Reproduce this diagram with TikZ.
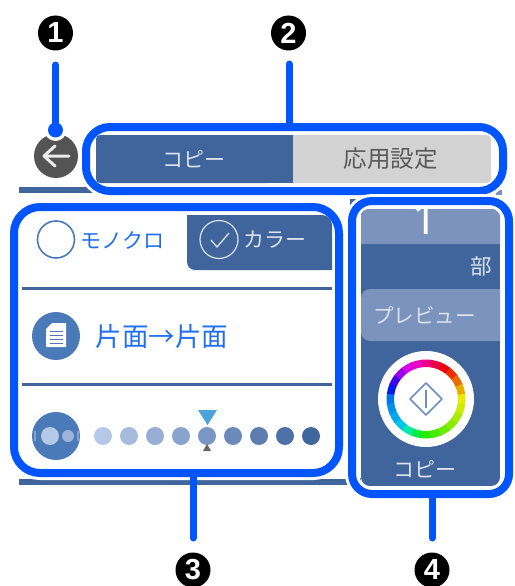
\documentclass[tikz,border=0pt]{standalone}
\usepackage{fontspec}
\setmainfont{Noto Sans CJK JP}
\newfontfamily\badgefont{Liberation Sans}[BoldFont={Liberation Sans Bold}]
\newfontfamily\countfont{Noto Sans}
\usetikzlibrary{calc}
\definecolor{hl}{HTML}{0055FF}
\definecolor{panel}{HTML}{3F659C}
\definecolor{lightp}{HTML}{7B93BD}
\definecolor{tabgray}{HTML}{D3D3D3}
\definecolor{midblue}{HTML}{4A7AB8}
\definecolor{txtblue}{HTML}{1F6FEF}
\definecolor{softw}{HTML}{DCE3EE}
\definecolor{dotA}{HTML}{B5C8E6}
\definecolor{dotB}{HTML}{9DB3D8}
\definecolor{markc}{HTML}{4BA3DA}
\definecolor{diam}{HTML}{6A90C4}
\newcommand{\jp}[1]{\fontsize{#1}{#1}\selectfont}
\tikzset{
  x=1pt,y=-1pt,
  badge/.style={circle,fill=black,text=white,minimum size=35pt,inner sep=0pt,outer sep=0pt,font=\badgefont\bfseries\fontsize{29}{29}\selectfont},
  hlbox/.style={rectangle,draw=hl,line width=8pt,rounded corners=#1,inner sep=0pt,outer sep=0pt,preaction={draw=white,line width=14pt}},
  leader/.style={draw=hl,line width=7pt,line cap=round},
  rulebar/.style={fill=panel},
  label/.style={inner sep=0pt,outer sep=0pt},
}
\begin{document}
\begin{tikzpicture}
\useasboundingbox (0,0) rectangle (514,586);
% background rules of the screen
\fill[rulebar] (19,187) rectangle (100,193);
\fill[rulebar] (19,479) rectangle (345,485);
\fill[rulebar] (350,199) rectangle (365,215);
\fill[rulebar] (345,478) rectangle (361,485);
\fill[lightp] (496,190) rectangle (502,195);
% back button
\node[circle,fill=black!67,minimum size=44pt,inner sep=0pt] (back) at (56,156) {};
\draw[white!92!black,line width=3pt,line cap=round,line join=round] (44,156) -- (69,156) (55,146) -- (44,156) -- (55,166);
% highlight frames
\node[hlbox=24pt,minimum width=417pt,minimum height=64pt] (frameB) at (294.5,159) {};
\node[hlbox=26pt,minimum width=325pt,minimum height=266pt] (frameC) at (176.5,340) {};
\node[hlbox=20pt,minimum width=157pt,minimum height=293pt] (frameD) at (430.5,347.5) {};
% tabs
\fill[tabgray,rounded corners=4pt] (280,135) rectangle (491,183);
\fill[panel,rounded corners=4pt] (96,135) rectangle (270,183);
\fill[panel] (150,135) rectangle (293,183);
\node[label,text=softw,font=\jp{21}] (tabcopy) at (194,159) {コピー};
\node[label,text=black!65,font=\jp{23.5}] (tabadv) at (390.5,159) {応用設定};
% colour selector
\fill[panel] (187,215) -- (187,270) [rounded corners=0pt] -- (332,270) -- (332,225) arc[start angle=0,end angle=-90,radius=10] -- (187,215) -- cycle;
\fill[white] (187,262) rectangle (195,270);
\fill[panel] (195,270) arc[start angle=90,end angle=180,radius=8] -- (195,262) -- cycle;
\node[circle,draw=midblue,line width=1.6pt,minimum size=37pt,inner sep=0pt] (mono) at (56,239.5) {};
\node[label,text=txtblue,font=\jp{21}] (monotxt) at (122,240) {モノクロ};
\node[circle,draw=softw,line width=1.2pt,minimum size=38pt,inner sep=0pt] (color) at (219,239.5) {};
\draw[softw,line width=1.3pt,line join=round] (211,240) -- (217,247) -- (229,233);
\node[label,text=softw,font=\jp{21}] (colortxt) at (275,240) {カラー};
\fill[rulebar] (22,287) rectangle (332,290);
\fill[rulebar] (22,383) rectangle (332,386);
% sides
\node[circle,fill=midblue,minimum size=48pt,inner sep=0pt] (sides) at (56,336) {};
\fill[white] (52,323) -- (66,323) -- (66,347) -- (46,347) -- (46,329) -- cycle;
\foreach \yy in {331,335,339,343}{\draw[midblue,line width=1pt] (50,\yy) -- (63,\yy);}
\node[label,text=txtblue,font=\jp{26.5}] (sidestxt) at (162,336) {片面→片面};
% density
\node[circle,fill=midblue,minimum size=48pt,inner sep=0pt] (dens) at (56,436) {};
\fill[dotA] (50,436) circle (9);
\fill[dotB] (68,436) circle (6);
\fill[dotB!70!midblue] (34,431) rectangle (36,441);
\fill[dotB!70!midblue] (76.5,431) rectangle (78.5,441);
\foreach \xx/\cc in {103/B5C8E6,129/A6BBDD,155/97AFD6,181/88A3CC,207/7A96C2,233/6B8ABA,259/5C7EAF,285/4D72A8,311/3F679E}{
  \definecolor{dotc}{HTML}{\cc}
  \fill[dotc] (\xx,436) circle (9);
}
\fill[markc] (198,410) -- (217,410) -- (207.5,425) -- cycle;
\fill[black!60] (207,444) -- (203,451) -- (211,451) -- cycle;
% right panel
\begin{scope}
\clip[rounded corners=9pt] (361,209) rectangle (500,486);
\fill[panel] (361,209) rectangle (500,486);
\fill[lightp,rounded corners=9pt] (350,200) rectangle (520,244);
\fill[lightp,rounded corners=9pt] (361,289) rectangle (520,341);
\node[label,text=white,font=\countfont\fontsize{44}{44}\selectfont] (count) at (425,219) {1};
\end{scope}
\node[label,text=softw,font=\jp{21.5}] (unit) at (481,266) {部};
\node[label,text=softw,font=\jp{20.5}] (preview) at (424.5,315) {プレビュー};
\node[circle,fill=white,minimum size=96pt,inner sep=0pt] (start) at (426,399) {};
\begin{scope}[shift={(426,399)}]
\foreach \t/\h in {0/325,15/341,30/357,45/12,60/28,75/44,90/60,105/68,120/77,135/85,150/93,165/102,180/110,195/137,210/163,225/190,240/197,255/203,270/210,285/233,300/257,315/280,330/295,345/310}{
  \definecolor{ringc}{Hsb}{\h,1,0.92}
  \pgfmathsetmacro{\aa}{\t-90-7.5}
  \pgfmathsetmacro{\ab}{\t-90}
  \pgfmathsetmacro{\ac}{\t-90+8}
  \fill[ringc] (\aa:39.5) -- (\ab:39.5) -- (\ac:39.5) -- (\ac:32) -- (\ab:32) -- (\aa:32) -- cycle;
}
\end{scope}
\draw[diam,line width=1.6pt,line join=round] (410,399) -- (426,383) -- (442,399) -- (426,415) -- cycle;
\draw[diam,line width=1.6pt] (426,390) -- (426,408);
\node[label,text=softw,font=\jp{21}] (starttxt) at (425,469) {コピー};
% badges
\node[badge] (b1) at (55.5,33) {1};
\node[badge] (b2) at (288.5,33) {2};
\node[badge] (b3) at (193,570) {3};
\node[badge] (b4) at (432,570) {4};
% leaders
\coordinate (l1) at (55.5,65);
\coordinate (d1) at (55.5,130);
\coordinate (l2) at (289,64);
\coordinate (l3) at (193,538);
\coordinate (l4) at (432,538);
\fill[white] (d1) circle (11);
\draw[leader] (l1) -- (d1);
\fill[hl] (d1) circle (7.5);
\draw[leader] (l2) -- (l2 |- frameB.north);
\draw[leader] (l3) -- (l3 |- frameC.south);
\draw[leader] (l4) -- (l4 |- frameD.south);
\end{tikzpicture}
\end{document}
